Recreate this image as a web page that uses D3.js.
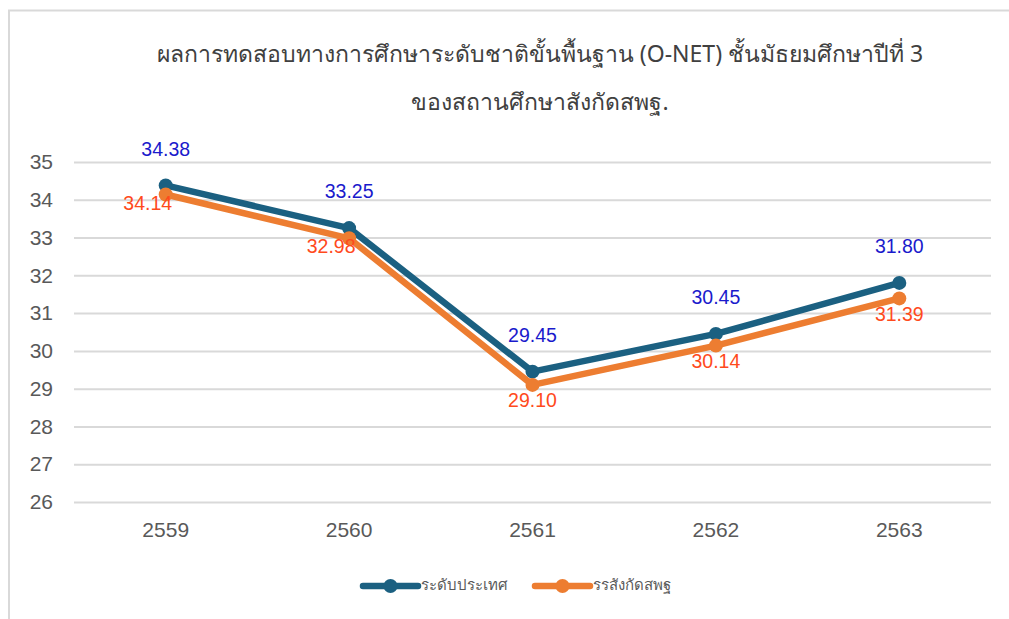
<!DOCTYPE html>
<html>
<head>
<meta charset="utf-8">
<script src="https://cdn.jsdelivr.net/npm/d3@7"></script>
<style>
  body { margin: 0; background: #fff; }
  svg { display: block; }
</style>
</head>
<body>
<div id="chart"></div>
<script>
// data
var years = ["2559", "2560", "2561", "2562", "2563"];
var national = [34.38, 33.25, 29.45, 30.45, 31.80];
var obec = [34.14, 32.98, 29.10, 30.14, 31.39];
var yTicks = [26, 27, 28, 29, 30, 31, 32, 33, 34, 35];
var seriesNames = ["ระดับประเทศ", "รรสังกัดสพฐ"];
var titleLines = ["ผลการทดสอบทางการศึกษาระดับชาติขั้นพื้นฐาน (O-NET) ชั้นมัธยมศึกษาปีที่ 3", "ของสถานศึกษาสังกัดสพฐ."];

var W = 1009, H = 619;
var margin = { top: 162, right: 18, bottom: 117, left: 74 };
var width = W - margin.left - margin.right;
var height = H - margin.top - margin.bottom;

var lineColors = ["#1b6081", "#ed7d31"];
var labelColors = ["#1a1acc", "#ff4a1c"];
var numFont = "Liberation Sans, Arial, sans-serif";

var svg = d3.select("#chart").append("svg")
  .attr("width", W)
  .attr("height", H);

// frame (left + top edge visible)
svg.append("path")
  .attr("d", "M9,619 L9,10.5 L1009,10.5")
  .attr("fill", "none")
  .attr("stroke", "#d9d9d9")
  .attr("stroke-width", 2);

var g = svg.append("g")
  .attr("transform", "translate(" + margin.left + "," + margin.top + ")");

var x = d3.scaleBand().domain(years).range([0, width]);
var y = d3.scaleLinear().domain([26, 35]).range([height, 0]);

// grid
g.append("g")
  .call(d3.axisLeft(y).tickValues(yTicks).tickSize(-width).tickFormat(""))
  .call(function(s) {
    s.select(".domain").remove();
    s.selectAll("line").attr("stroke", "#d9d9d9").attr("stroke-width", 2);
  });

// y labels
g.append("g")
  .call(d3.axisLeft(y).tickValues(yTicks).tickSize(0).tickPadding(21))
  .call(function(s) {
    s.select(".domain").remove();
    s.selectAll("text")
      .attr("fill", "#595959")
      .attr("font-family", numFont)
      .attr("font-size", 21);
  });

// x labels
g.append("g")
  .attr("transform", "translate(0," + height + ")")
  .call(d3.axisBottom(x).tickSize(0).tickPadding(20))
  .call(function(s) {
    s.select(".domain").remove();
    s.selectAll("text")
      .attr("fill", "#595959")
      .attr("font-family", numFont)
      .attr("font-size", 21);
  });

var cx = function(d, i) { return x(years[i]) + x.bandwidth() / 2; };
var line = d3.line()
  .x(function(d, i) { return cx(d, i); })
  .y(function(d) { return y(d); });

[national, obec].forEach(function(series, k) {
  g.append("path")
    .datum(series)
    .attr("fill", "none")
    .attr("stroke", lineColors[k])
    .attr("stroke-width", 6.5)
    .attr("stroke-linejoin", "round")
    .attr("d", line);

  g.selectAll(".dot" + k)
    .data(series)
    .enter().append("circle")
    .attr("cx", cx)
    .attr("cy", function(d) { return y(d); })
    .attr("r", 7)
    .attr("fill", lineColors[k]);
});

// value labels: national above, obec below (first two sit low-left)
g.selectAll(".lblN")
  .data(national)
  .enter().append("text")
  .attr("x", cx)
  .attr("y", function(d) { return y(d) - 35; })
  .attr("text-anchor", "middle")
  .attr("dominant-baseline", "middle")
  .attr("fill", labelColors[0])
  .attr("font-family", numFont)
  .attr("font-size", 19.5)
  .text(function(d) { return d.toFixed(2); });

g.selectAll(".lblO")
  .data(obec)
  .enter().append("text")
  .attr("x", function(d, i) { return cx(d, i) + (i < 2 ? -18 : 0); })
  .attr("y", function(d, i) { return y(d) + (i < 2 ? 10 : 17); })
  .attr("text-anchor", "middle")
  .attr("dominant-baseline", "middle")
  .attr("fill", labelColors[1])
  .attr("font-family", numFont)
  .attr("font-size", 19.5)
  .text(function(d) { return d.toFixed(2); });

// title
svg.selectAll(".title")
  .data(titleLines)
  .enter().append("text")
  .attr("x", 540)
  .attr("y", function(d, i) { return 56 + i * 48; })
  .attr("text-anchor", "middle")
  .attr("dominant-baseline", "middle")
  .attr("fill", "#404040")
  .attr("font-family", "Noto Sans, sans-serif")
  .attr("font-size", 23)
  .text(function(d) { return d; });

// legend
var legendX = [363, 535];
var legend = svg.selectAll(".legend")
  .data(seriesNames)
  .enter().append("g")
  .attr("transform", function(d, i) { return "translate(" + legendX[i] + ",586)"; });

legend.append("line")
  .attr("x1", 0).attr("x2", 55)
  .attr("stroke", function(d, i) { return lineColors[i]; })
  .attr("stroke-width", 6.5)
  .attr("stroke-linecap", "round");
legend.append("circle")
  .attr("cx", 27.5)
  .attr("r", 7)
  .attr("fill", function(d, i) { return lineColors[i]; });
legend.append("text")
  .attr("x", 58)
  .attr("dominant-baseline", "middle")
  .attr("fill", "#595959")
  .attr("font-family", "Noto Sans, sans-serif")
  .attr("font-size", 15)
  .text(function(d) { return d; });
</script>
</body>
</html>
